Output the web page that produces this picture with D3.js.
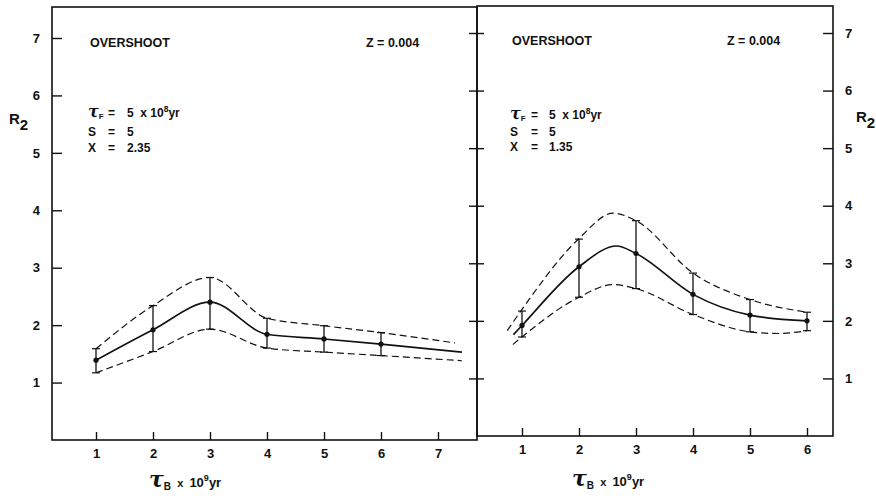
<!DOCTYPE html>
<html>
<head>
<meta charset="utf-8">
<script src="https://cdn.jsdelivr.net/npm/d3@7"></script>
<style>
  body { margin: 0; background: #fff; }
  svg { display: block; }
  text { font-family: "Liberation Sans", Arial, Helvetica, sans-serif; font-weight: bold; fill: #111; }
  .tau { font-family: "DejaVu Serif", serif; font-style: italic; font-weight: bold; }
</style>
</head>
<body>
<svg id="chart" width="876" height="498"></svg>
<script>
// ---- Data: R2 versus burst age tau_B (10^9 yr), overshoot models, Z = 0.004 ----
const xTicksLeft = [1, 2, 3, 4, 5, 6, 7];
const xTicksRight = [1, 2, 3, 4, 5, 6];
const yTicks = [1, 2, 3, 4, 5, 6, 7];

// Left panel, X = 2.35: model points with error bars
const tauLeft   = [1, 2, 3, 4, 5, 6];
const r2Left    = [1.39, 1.92, 2.40, 1.84, 1.76, 1.67];
const r2LeftHi  = [1.59, 2.34, 2.83, 2.12, 1.99, 1.87];
const r2LeftLo  = [1.17, 1.54, 1.93, 1.60, 1.53, 1.47];
// Left panel curves (mean and envelope)
const leftMidTau   = [1, 2, 3, 4, 5, 6, 7.42];
const leftMid      = [1.39, 1.92, 2.40, 1.84, 1.76, 1.67, 1.53];
const leftUpperTau = [1, 2, 3, 4, 5, 6, 7.30];
const leftUpper    = [1.59, 2.34, 2.83, 2.12, 1.99, 1.87, 1.69];
const leftLowerTau = [1, 2, 3, 4, 5, 6, 7.42];
const leftLower    = [1.17, 1.54, 1.93, 1.60, 1.53, 1.47, 1.38];

// Right panel, X = 1.35: model points with error bars
const tauRight   = [1, 2, 3, 4, 5, 6];
const r2Right    = [1.92, 2.94, 3.17, 2.46, 2.10, 2.00];
const r2RightHi  = [2.17, 3.42, 3.74, 2.83, 2.37, 2.15];
const r2RightLo  = [1.72, 2.41, 2.56, 2.11, 1.81, 1.83];
// Right panel curves (mean and envelope)
const rightMidTau   = [0.85, 1, 2, 2.66, 3, 4, 5, 6];
const rightMid      = [1.76, 1.92, 2.94, 3.30, 3.17, 2.46, 2.10, 2.00];
const rightUpperTau = [0.74, 1, 2, 2.60, 3, 4, 5, 6];
const rightUpper    = [1.83, 2.20, 3.43, 3.87, 3.74, 2.83, 2.37, 2.15];
const rightLowerTau = [0.84, 1, 2, 2.60, 3, 4, 5, 5.5, 6];
const rightLower    = [1.59, 1.72, 2.41, 2.63, 2.56, 2.11, 1.81, 1.78, 1.83];

const svg = d3.select("#chart");
const ink = "#111";

// Scales for each panel
const xL = d3.scaleLinear().domain([1, 7]).range([96, 438]);
const yL = d3.scaleLinear().domain([0, 7]).range([440, 38]);
const xR = d3.scaleLinear().domain([1, 6]).range([522, 807]);
const yR = d3.scaleLinear().domain([0, 7]).range([436, 33]);

// Frames
svg.append("rect").attr("x", 52).attr("y", 7).attr("width", 425).attr("height", 433)
  .attr("fill", "none").attr("stroke", ink).attr("stroke-width", 1.6);
svg.append("rect").attr("x", 477).attr("y", 6).attr("width", 356).attr("height", 430)
  .attr("fill", "none").attr("stroke", ink).attr("stroke-width", 1.6);

function styleAxis(g, size) {
  g.select(".domain").remove();
  g.selectAll(".tick line").attr("stroke", ink).attr("stroke-width", 1.4);
  g.selectAll(".tick text").attr("fill", ink)
    .style("font-family", '"Liberation Sans", Arial, sans-serif')
    .style("font-weight", "bold").style("font-size", size + "px");
}

// Left panel axes
svg.append("g").attr("transform", "translate(52,0)")
  .call(d3.axisLeft(yL).tickValues(yTicks).tickSize(-10).tickPadding(12).tickFormat(d3.format("d")))
  .call(g => styleAxis(g, 13));
svg.append("g").attr("transform", "translate(0,440)")
  .call(d3.axisBottom(xL).tickValues(xTicksLeft).tickSize(-8).tickPadding(9).tickFormat(d3.format("d")))
  .call(g => styleAxis(g, 13));

// Right panel axes
svg.append("g").attr("transform", "translate(833,0)")
  .call(d3.axisRight(yR).tickValues(yTicks).tickSize(-10).tickPadding(12).tickFormat(d3.format("d")))
  .call(g => styleAxis(g, 13));
svg.append("g").attr("transform", "translate(0,436)")
  .call(d3.axisBottom(xR).tickValues(xTicksRight).tickSize(-8).tickPadding(9).tickFormat(d3.format("d")))
  .call(g => styleAxis(g, 13));
// ticks crossing the shared border
svg.append("g").attr("transform", "translate(477,0)")
  .call(d3.axisLeft(yR).tickValues(yTicks).tickSize(8).tickFormat(""))
  .call(g => styleAxis(g, 10));
svg.append("g").attr("transform", "translate(477,0)")
  .call(d3.axisLeft(yR).tickValues(yTicks).tickSize(-7).tickFormat(""))
  .call(g => styleAxis(g, 10));

function drawPanel(x, y, tau, mid, hi, lo, curves) {
  const g = svg.append("g");
  curves.forEach(c => {
    const pts = c.tau.map((t, i) => [t, c.val[i]]);
    g.append("path")
      .attr("d", d3.line().x(d => x(d[0])).y(d => y(d[1])).curve(d3.curveMonotoneX)(pts))
      .attr("fill", "none").attr("stroke", ink)
      .attr("stroke-width", c.dashed ? 1.2 : 1.6)
      .attr("stroke-dasharray", c.dashed ? "7,4" : null);
  });
  const cap = 4;
  tau.forEach((t, i) => {
    g.append("line").attr("x1", x(t)).attr("x2", x(t)).attr("y1", y(hi[i])).attr("y2", y(lo[i]))
      .attr("stroke", ink).attr("stroke-width", 1.3);
    [hi[i], lo[i]].forEach(v => g.append("line")
      .attr("x1", x(t) - cap).attr("x2", x(t) + cap).attr("y1", y(v)).attr("y2", y(v))
      .attr("stroke", ink).attr("stroke-width", 1.2));
    g.append("circle").attr("cx", x(t)).attr("cy", y(mid[i])).attr("r", 2.6).attr("fill", ink);
  });
}

drawPanel(xL, yL, tauLeft, r2Left, r2LeftHi, r2LeftLo, [
  { tau: leftMidTau, val: leftMid, dashed: false },
  { tau: leftUpperTau, val: leftUpper, dashed: true },
  { tau: leftLowerTau, val: leftLower, dashed: true }
]);
drawPanel(xR, yR, tauRight, r2Right, r2RightHi, r2RightLo, [
  { tau: rightMidTau, val: rightMid, dashed: false },
  { tau: rightUpperTau, val: rightUpper, dashed: true },
  { tau: rightLowerTau, val: rightLower, dashed: true }
]);

// ---- Text ----
function label(x, y, str, size) {
  return svg.append("text").attr("x", x).attr("y", y).attr("font-size", size).text(str);
}

// R2 axis labels
function r2Label(x, y) {
  const t = svg.append("text").attr("x", x).attr("y", y).attr("font-size", 15);
  t.append("tspan").text("R");
  t.append("tspan").attr("dy", 6).attr("font-size", 15).text("2");
}
r2Label(9, 124);
r2Label(856, 122);

// Annotation block
function annotations(x0, yTop, xz, xEq, xVal, xVal2, base, xText) {
  label(x0 + 2, yTop, "OVERSHOOT", 12.5);
  svg.append("text").attr("x", xz).attr("y", yTop).attr("font-size", 12.5)
    .attr("xml:space", "preserve").text("Z = 0.004");
  // tau_F line
  const t = svg.append("text").attr("x", x0).attr("y", base[0]).attr("font-size", 12);
  t.append("tspan").attr("class", "tau").attr("font-size", 16).text("τ");
  t.append("tspan").attr("dy", 2).attr("font-size", 8).text("F");
  svg.append("text").attr("x", xEq).attr("y", base[0]).attr("font-size", 12).text("=");
  const t3 = svg.append("text").attr("x", xVal).attr("y", base[0]).attr("font-size", 12)
    .attr("xml:space", "preserve");
  t3.append("tspan").text("5  x 10");
  t3.append("tspan").attr("dy", -5).attr("font-size", 8.5).text("8");
  t3.append("tspan").attr("dy", 5).text("yr");
  label(x0, base[1], "S", 12);
  label(xEq, base[1], "=", 12);
  label(xVal2, base[1], "5", 12);
  label(x0, base[2], "X", 12);
  label(xEq, base[2], "=", 12);
  label(xVal2, base[2], xText, 12);
}
annotations(88, 47, 366, 108, 127, 127, [117, 136, 152], "2.35");
annotations(510, 45, 727, 531, 549, 549, [119, 136, 151], "1.35");

// x-axis titles
function xTitle(x, y) {
  const t = svg.append("text").attr("x", x).attr("y", y).attr("font-size", 13)
    .attr("xml:space", "preserve");
  t.append("tspan").attr("class", "tau").attr("font-size", 22).text("τ");
  t.append("tspan").attr("dy", 3).attr("font-size", 10).text("B");
  t.append("tspan").attr("dy", -3).attr("font-size", 11).text("  x  ");
  t.append("tspan").text("10");
  t.append("tspan").attr("dy", -6).attr("font-size", 9).text("9");
  t.append("tspan").attr("dy", 6).text("yr");
}
xTitle(149, 487);
xTitle(572, 486);
</script>
</body>
</html>
